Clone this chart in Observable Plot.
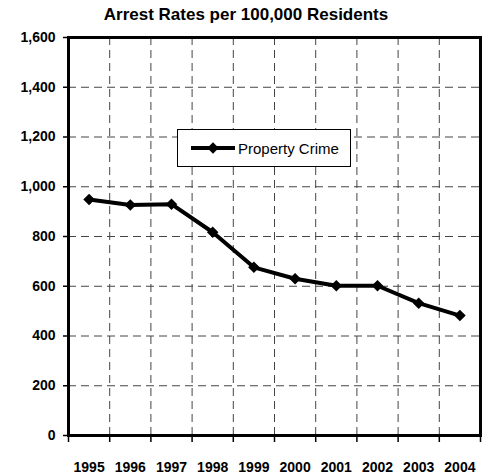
<!DOCTYPE html>
<html>
<head>
<meta charset="utf-8">
<script src="https://cdn.jsdelivr.net/npm/d3@7"></script>
<script src="https://cdn.jsdelivr.net/npm/@observablehq/plot@0.6"></script>
<style>
  html, body { margin: 0; padding: 0; background: #fff; }
  #wrap { position: relative; width: 492px; height: 474px; font-family: "Liberation Sans", Arial, sans-serif; }
  #title { position: absolute; left: 0; top: 0; width: 492px; height: 30px; text-align: center;
           font-size: 17px; font-weight: bold; line-height: 30px; color: #000; }
  #chart { position: absolute; left: 0; top: 30px; }
  #legend { position: absolute; left: 177px; top: 129px; width: 174px; height: 38px; background: #fff;
            border: 1px solid #000; box-sizing: border-box; display: flex; align-items: center; }
  #legend svg { margin-left: 12px; }
  #legend span { font-size: 15px; margin-left: 2px; }
</style>
</head>
<body>
<div id="wrap">
  <div id="title">Arrest Rates per 100,000 Residents</div>
  <div id="chart"></div>
  <div id="legend"></div>
</div>
<script>
const years = [1995, 1996, 1997, 1998, 1999, 2000, 2001, 2002, 2003, 2004];
const propertyCrime = [949, 927, 930, 817, 676, 630, 602, 602, 532, 482];
const yTicks = [0, 200, 400, 600, 800, 1000, 1200, 1400, 1600];
const seriesName = "Property Crime";

const data = years.map((y, i) => ({year: y, value: propertyCrime[i]}));
const boundaries = [years[0] - 0.5, ...years.map(y => y + 0.5)];
const innerBoundaries = boundaries.slice(1, -1);
const innerY = yTicks.slice(1, -1);

const chart = Plot.plot({
  width: 492,
  height: 444,
  marginTop: 7,
  marginBottom: 39,
  marginLeft: 68,
  marginRight: 12,
  style: {fontFamily: "'Liberation Sans', Arial, sans-serif", fontSize: "14px", fontWeight: "bold", color: "#000", background: "#fff"},
  x: {domain: [years[0] - 0.5, years[years.length - 1] + 0.5], label: null},
  y: {domain: [yTicks[0], yTicks[yTicks.length - 1]], label: null},
  marks: [
    Plot.ruleY(innerY, {stroke: "#444", strokeWidth: 1, strokeDasharray: "8,5"}),
    Plot.ruleX(innerBoundaries, {stroke: "#444", strokeWidth: 1, strokeDasharray: "8,5"}),
    Plot.axisY(yTicks, {tickSize: 5, tickPadding: 8, tickFormat: d3.format(","), stroke: "#000", strokeWidth: 1.5, strokeOpacity: 1, fontSize: 14, fontWeight: "bold", label: null}),
    Plot.axisX(boundaries, {tickSize: 7, tickFormat: () => "", stroke: "#000", strokeWidth: 1.5, strokeOpacity: 1, label: null}),
    Plot.axisX(years, {tickSize: 0, tickPadding: 27, tickFormat: d => String(d), fontSize: 14, fontWeight: "bold", label: null}),
    Plot.frame({stroke: "#000", strokeWidth: 3}),
    Plot.line(data, {x: "year", y: "value", stroke: "#000", strokeWidth: 4}),
    Plot.dot(data, {x: "year", y: "value", symbol: "diamond2", r: 5.2, fill: "#000", stroke: "none"})
  ]
});
document.getElementById("chart").appendChild(chart);

// legend
const legend = document.getElementById("legend");
const ls = d3.create("svg").attr("width", 46).attr("height", 20);
ls.append("line").attr("x1", 1).attr("x2", 45).attr("y1", 10).attr("y2", 10).attr("stroke", "#000").attr("stroke-width", 4);
ls.append("path").attr("transform", "translate(23,10)").attr("d", d3.symbol(d3.symbolDiamond2, Math.PI * 5.2 * 5.2)()).attr("fill", "#000");
legend.appendChild(ls.node());
const sp = document.createElement("span");
sp.textContent = seriesName;
legend.appendChild(sp);
</script>
</body>
</html>
